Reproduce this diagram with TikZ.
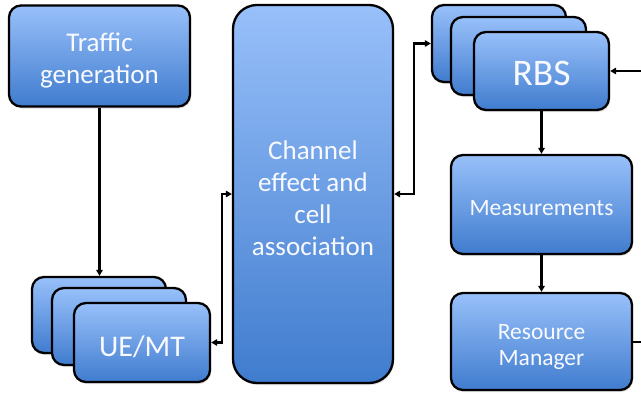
\documentclass[tikz,border=0pt]{standalone}
\usepackage{fontspec}
\setmainfont{Carlito}
\usetikzlibrary{arrows.meta,shadows}
\definecolor{boxtop}{RGB}{152,192,250}
\definecolor{boxbot}{RGB}{64,124,206}
\definecolor{boxtext}{RGB}{248,250,255}
\tikzset{
  blk/.style={draw=black, line width=2.3pt, rounded corners=12pt,
    top color=boxtop, bottom color=boxbot, inner sep=0pt,
    drop shadow={opacity=0.25, shadow xshift=1pt, shadow yshift=-2pt}},
  txt/.style={text=boxtext, align=center, inner sep=0pt},
  conn/.style={draw=black, line width=2.4pt, -{Triangle[length=6pt,width=6.5pt]}},
  bconn/.style={draw=black, line width=2.4pt, {Triangle[length=6pt,width=6.5pt]}-{Triangle[length=6pt,width=6.5pt]}},
}
\begin{document}
\begin{tikzpicture}[x=1pt,y=-1pt]
\useasboundingbox (0,0) rectangle (641,394);
% Traffic generation
\node[blk, minimum width=181pt, minimum height=101pt] (traffic) at (99.5,56) {};
\node[txt, font=\fontsize{27}{32}\selectfont] (traffictxt) at ([yshift=-4pt]traffic.center) {Traffic\\generation};
% Channel
\node[blk, rounded corners=24pt, minimum width=160pt, minimum height=378pt] (chan) at (313,194) {};
\node[txt, font=\fontsize{27}{32}\selectfont] (chantxt) at ([yshift=-4pt]chan.center) {Channel\\effect and\\cell\\association};
% UE stack
\node[blk, minimum width=134pt, minimum height=76pt] (ueback) at (99,315) {};
\node[blk, minimum width=134pt, minimum height=77pt] (uemid) at (119,326.5) {};
\node[blk, minimum width=136pt, minimum height=79pt] (uefront) at (142,342.5) {};
\node[txt, font=\fontsize{30}{34}\selectfont] (uetxt) at ([yshift=-4pt]uefront.center) {UE/MT};
% RBS stack
\node[blk, minimum width=134pt, minimum height=77pt] (rbsback) at (499,43.5) {};
\node[blk, minimum width=135pt, minimum height=78pt] (rbsmid) at (518.5,56) {};
\node[blk, minimum width=135pt, minimum height=78pt] (rbsfront) at (541.5,71) {};
\node[txt, font=\fontsize{37.5}{40}\selectfont] (rbstxt) at ([yshift=-2pt]rbsfront.center) {RBS};
% Measurements
\node[blk, minimum width=181pt, minimum height=99pt] (meas) at (541.5,204.5) {};
\node[txt, font=\fontsize{23.5}{26}\selectfont] (meastxt) at ([yshift=-4pt]meas.center) {Measurements};
% Resource Manager
\node[blk, minimum width=181pt, minimum height=97pt] (rm) at (541.5,341.5) {};
\node[txt, font=\fontsize{23.5}{26}\selectfont] (rmtxt) at ([yshift=-5pt]rm.center) {Resource\\Manager};
% free ends
\coordinate (rmout) at (641,342);
\coordinate (rbsin) at (641,71);
% connectors
\draw[conn] (traffic.south) -- (traffic.south |- ueback.north);
\draw[bconn] (uefront.east) -- ++(11,0) |- (chan.west);
\draw[bconn] (chan.east) -- ++(20,0) |- (rbsback.west);
\draw[conn] (rbsfront.south) -- (meas.north);
\draw[conn] (meas.south) -- (rm.north);
\draw[line width=2.4pt] (rm.east |- rmout) -- (rmout);
\draw[conn] (rbsin) -- (rbsfront.east |- rbsin);
\end{tikzpicture}
\end{document}
